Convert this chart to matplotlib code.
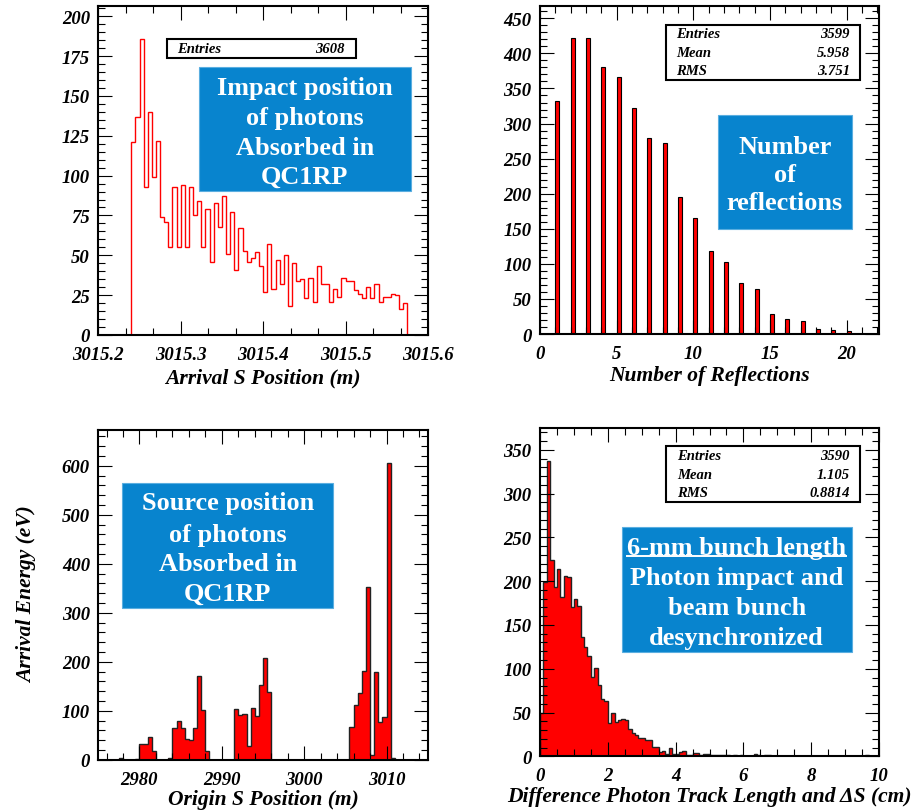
import numpy as np
import matplotlib
matplotlib.use("Agg")
import matplotlib.pyplot as plt
from matplotlib.patches import Rectangle
from matplotlib.lines import Line2D
from matplotlib.ticker import MultipleLocator, FormatStrFormatter

# ---------------- data ----------------
# Arrival S position histogram (counts per 5 mm bin starting at 3015.24 m)
impact_start = 3015.24
impact_width = 0.005
impact_counts = [121, 137, 186, 93, 140, 99, 122, 74, 71, 55,
                 93, 55, 94, 55, 93, 75, 84, 55, 79, 46,
                 83, 68, 87, 51, 77, 41, 67, 53, 46, 48,
                 52, 43, 27, 57, 29, 47, 32, 50, 18, 45,
                 34, 35, 23, 36, 21, 43, 32, 32, 21, 29,
                 24, 36, 34, 34, 28, 26, 23, 30, 23, 32,
                 21, 24, 24, 26, 25, 16, 20]
impact_stats = [("Entries", "3608")]

# Number of reflections
refl_n = list(range(1, 21))
refl_counts = [332, 422, 422, 380, 366, 322, 279, 272, 195, 165,
               118, 103, 73, 64, 29, 21, 19, 7, 5, 4]
refl_stats = [("Entries", "3599"), ("Mean", "5.958"), ("RMS", "3.751")]

# Arrival energy vs origin S position (0.5 m bins, 2975 m .. 3015 m)
origin_lo, origin_hi = 2975.0, 3015.0
origin_energy = [0, 0, 0, 0, 0, 3, 0, 0, 0, 1,
                 33, 32, 46, 18, 0, 0, 0, 3, 64, 79,
                 65, 42, 40, 65, 170, 101, 17, 0, 0, 0,
                 0, 0, 0, 104, 92, 93, 27, 106, 89, 153,
                 208, 138, 0, 0, 0, 0, 0, 0, 0, 0,
                 0, 0, 0, 0, 0, 0, 0, 0, 0, 0,
                 0, 66, 111, 137, 181, 353, 9, 178, 76, 87,
                 606, 3, 0, 0, 0, 0, 0, 0, 0, 0]

# Difference photon track length and delta S (0.1 cm bins, 0 .. 10 cm)
dtrack_lo, dtrack_hi = 0.0, 10.0
dtrack_counts = [50, 199, 337, 224, 193, 214, 182, 206, 205, 170,
                 180, 172, 136, 125, 114, 91, 101, 82, 66, 63,
                 38, 49, 39, 41, 43, 42, 31, 27, 24, 21,
                 21, 19, 19, 11, 11, 5, 6, 3, 9, 3,
                 3, 5, 6, 2, 1, 4, 4, 2, 3, 3,
                 1, 1, 1, 2, 1, 1, 0, 1, 0, 1,
                 0, 0, 0, 3, 1, 0, 1, 1, 0, 0,
                 0, 0, 0, 0, 0, 0, 0, 0, 0, 0,
                 0, 0, 0, 0, 0, 0, 0, 0, 0, 0,
                 0, 0, 0, 0, 0, 0, 1, 0, 0, 0]
dtrack_stats = [("Entries", "3590"), ("Mean", "1.105"), ("RMS", "0.8814")]

# ---------------- styling ----------------
W, H = 923, 812
plt.rcParams["font.family"] = ["Liberation Serif", "DejaVu Serif"]
plt.rcParams["font.weight"] = "bold"
plt.rcParams["font.style"] = "italic"
plt.rcParams["axes.labelweight"] = "bold"

BLUE = "#0884CE"
RED = "#FF0000"
NOTE_SIZE = 18.9          # pt
NOTE_PX = NOTE_SIZE * 100 / 72
STATS_SIZE = 10.5

fig = plt.figure(figsize=(W / 100, H / 100), dpi=100)


def fx(px):
    return px / W


def fy(py):
    return 1 - py / H


def make_axes(left, top, right, bottom):
    return fig.add_axes([fx(left), fy(bottom), fx(right - left), (bottom - top) / H])


def style(ax, xmaj, xmin, ymaj, ymin):
    ax.xaxis.set_major_locator(MultipleLocator(xmaj))
    ax.xaxis.set_minor_locator(MultipleLocator(xmin))
    ax.yaxis.set_major_locator(MultipleLocator(ymaj))
    ax.yaxis.set_minor_locator(MultipleLocator(ymin))
    ax.tick_params(which="both", direction="in", top=True, right=True,
                   width=0.8, labelsize=13.5)
    ax.tick_params(axis="x", which="both", pad=8)
    ax.tick_params(axis="y", which="both", pad=6)
    ax.tick_params(which="major", length=10)
    ax.tick_params(which="minor", length=5)
    for s in ax.spines.values():
        s.set_linewidth(1.5)


def xlabel(ax, text, frac):
    ax.set_xlabel(text, fontsize=15.5, va="center")
    ax.xaxis.set_label_coords(0.5, frac)


def stats_box(left, top, right, bottom, rows, row_y, text_left, text_right):
    fig.add_artist(Rectangle((fx(left), fy(bottom)), fx(right - left), (bottom - top) / H,
                             transform=fig.transFigure, facecolor="white",
                             edgecolor="black", linewidth=1.5, zorder=10))
    for (name, val), yy in zip(rows, row_y):
        fig.text(fx(text_left), fy(yy), name, fontsize=STATS_SIZE, ha="left",
                 va="center", zorder=11)
        fig.text(fx(text_right), fy(yy), val, fontsize=STATS_SIZE, ha="right",
                 va="center", zorder=11)


def blue_box(left, top, right, bottom, lines, centers):
    fig.add_artist(Rectangle((fx(left), fy(bottom)), fx(right - left), (bottom - top) / H,
                             transform=fig.transFigure, facecolor=BLUE,
                             edgecolor="#5aaee0", linewidth=0.8, zorder=10))
    cx = (left + right) / 2
    texts = []
    for line, cy in zip(lines, centers):
        base = cy + 0.33 * NOTE_PX
        texts.append(fig.text(fx(cx), fy(base), line, color="white",
                              fontsize=NOTE_SIZE, fontstyle="normal", fontweight="bold",
                              ha="center", va="baseline", zorder=11))
    return cx, texts


# ---------------- panel 1: arrival S position ----------------
ax1 = make_axes(98.3, 6.7, 428, 336)
edges1 = impact_start + impact_width * np.arange(len(impact_counts) + 1)
ax1.stairs(impact_counts, edges1, baseline=0, fill=False, color=RED, linewidth=1.0)
ax1.set_xlim(3015.2, 3015.6)
ax1.set_ylim(0, 206.6)
style(ax1, 0.1, 0.1 / 3, 25, 5)
ax1.xaxis.set_major_formatter(FormatStrFormatter("%.1f"))
xlabel(ax1, "Arrival S Position (m)", -0.1275)
stats_box(166.7, 40, 356, 59.3, impact_stats, [49.5], 176.7, 345)
blue_box(199, 67.7, 410.7, 192.3,
         ["Impact position", "of photons", "Absorbed in", "QC1RP"],
         [86.7, 116.7, 146, 175])

# ---------------- panel 2: number of reflections ----------------
ax2 = make_axes(540, 6.7, 879, 335)
ax2.bar(refl_n, refl_counts, width=0.25, align="edge", color=RED,
        edgecolor="black", linewidth=0.8)
ax2.set_xlim(0, 22.1)
ax2.set_ylim(0, 468)
style(ax2, 5, 1, 50, 10)
xlabel(ax2, "Number of Reflections", -0.125)
stats_box(666, 26, 860, 81.3, refl_stats, [35, 53.3, 71.7], 676, 850)
blue_box(717.7, 115.7, 851.7, 230.3,
         ["Number", "of", "reflections"], [145, 173.3, 201.7])

# ---------------- panel 3: arrival energy vs origin ----------------
ax3 = make_axes(98.3, 431, 427.7, 760.7)
edges3 = np.linspace(origin_lo, origin_hi, len(origin_energy) + 1)
ax3.stairs(origin_energy, edges3, baseline=0, fill=True, color=RED, linewidth=0)
ax3.stairs(origin_energy, edges3, baseline=0, fill=False, color="#222222", linewidth=1.0)
ax3.set_xlim(origin_lo, origin_hi)
ax3.set_ylim(0, 673)
style(ax3, 10, 2, 100, 20)
xlabel(ax3, "Origin S Position (m)", -0.119)
ax3.set_ylabel("Arrival Energy (eV)", fontsize=15.5, va="center")
ax3.yaxis.set_label_coords(-0.2165, 0.503)
blue_box(122.3, 484, 333.3, 608.7,
         ["Source position", "of photons", "Absorbed in", "QC1RP"],
         [501.7, 533.3, 562.7, 591.7])

# ---------------- panel 4: track length difference ----------------
ax4 = make_axes(540, 429, 879, 757.3)
edges4 = np.linspace(dtrack_lo, dtrack_hi, len(dtrack_counts) + 1)
ax4.stairs(dtrack_counts, edges4, baseline=0, fill=True, color=RED, linewidth=0)
ax4.stairs(dtrack_counts, edges4, baseline=0, fill=False, color="#222222", linewidth=1.0)
ax4.set_xlim(dtrack_lo, dtrack_hi)
ax4.set_ylim(0, 375)
style(ax4, 2, 0.5, 50, 10)
xlabel(ax4, "Difference Photon Track Length and \u0394S (cm)", -0.12)
stats_box(665.7, 446.7, 860, 503.3, dtrack_stats, [456.7, 475.7, 494], 676.7, 850)
cx4, notes4 = blue_box(621.7, 528.3, 851.7, 652.7,
                       ["6-mm bunch length", "Photon impact and", "beam bunch",
                        "desynchronized"],
                       [546.7, 576.7, 606.7, 636])

# underline the first line of the bunch-length note, just under its baseline
renderer = fig.canvas.get_renderer()
w_px = notes4[0].get_window_extent(renderer).width
under_y = 546.7 + 0.33 * NOTE_PX + 2
fig.add_artist(Line2D([fx(cx4 - w_px / 2), fx(cx4 + w_px / 2)], [fy(under_y), fy(under_y)],
                      transform=fig.transFigure, color="white", linewidth=1.4, zorder=12))

fig.savefig("out.png", dpi=100)
